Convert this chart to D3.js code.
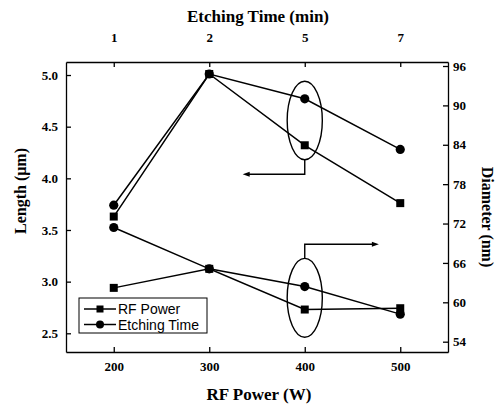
<!DOCTYPE html>
<html>
<head>
<meta charset="utf-8">
<script src="https://cdn.jsdelivr.net/npm/d3@7"></script>
<style>
  html, body { margin: 0; padding: 0; background: #fff; }
  svg { display: block; }
  .axis path, .axis line { stroke: #000; stroke-width: 1.3; }
  .axis text { font-family: "Liberation Serif", serif; font-weight: bold; font-size: 13px; fill: #000; }
  .title { font-family: "Liberation Serif", serif; font-weight: bold; font-size: 16px; fill: #000; }
  .htitle { font-size: 17px; }
  .legend text { font-family: "Liberation Sans", Arial, sans-serif; font-size: 14px; fill: #000; }
</style>
</head>
<body>
<script>
// ---- data ----
const rfPower = [200, 300, 400, 500];          // bottom axis (W)
const etchTime = [1, 2, 5, 7];                 // top axis (min), aligned with rfPower positions
const lengthRF = [3.63, 5.01, 4.32, 3.76];     // Length (um) vs RF power  (squares)
const lengthET = [3.74, 5.01, 4.77, 4.28];     // Length (um) vs etching time (circles)
const diamRF   = [62.2, 65.1, 58.9, 59.1];     // Diameter (nm) vs RF power (squares)
const diamET   = [71.4, 65.1, 62.4, 58.2];     // Diameter (nm) vs etching time (circles)
const leftTicks = [2.5, 3.0, 3.5, 4.0, 4.5, 5.0];
const rightTicks = [54, 60, 66, 72, 78, 84, 90, 96];
const legendLabels = ["RF Power", "Etching Time"];

const W = 503, H = 408;
const m = {left: 66, right: 55, top: 62, bottom: 56};
const svg = d3.select("body").append("svg").attr("width", W).attr("height", H);

const x = d3.scaleLinear().domain([150, 550]).range([m.left, W - m.right]);
const yL = d3.scaleLinear().domain([2.319, 5.126]).range([H - m.bottom, m.top]);
const yR = d3.scaleLinear().domain([52.43, 96.61]).range([H - m.bottom, m.top]);

// frame axes
svg.append("g").attr("class", "axis")
  .attr("transform", `translate(0,${H - m.bottom})`)
  .call(d3.axisBottom(x).tickValues(rfPower).tickSize(-5).tickSizeOuter(0).tickPadding(10));
svg.append("g").attr("class", "axis")
  .attr("transform", `translate(0,${m.top})`)
  .call(d3.axisTop(x).tickValues(rfPower).tickFormat((d, i) => etchTime[i]).tickSize(-5).tickSizeOuter(0).tickPadding(20));
svg.append("g").attr("class", "axis")
  .attr("transform", `translate(${m.left},0)`)
  .call(d3.axisLeft(yL).tickValues(leftTicks).tickFormat(d3.format(".1f")).tickSize(-5).tickSizeOuter(0).tickPadding(8));
svg.append("g").attr("class", "axis")
  .attr("transform", `translate(${W - m.right},0)`)
  .call(d3.axisRight(yR).tickValues(rightTicks).tickSize(-5).tickSizeOuter(0).tickPadding(5));

// titles
svg.append("text").attr("class", "title htitle").attr("x", 258).attr("y", 22)
  .attr("text-anchor", "middle").text("Etching Time (min)");
svg.append("text").attr("class", "title htitle").attr("x", 259).attr("y", 400)
  .attr("text-anchor", "middle").text("RF Power (W)");
svg.append("text").attr("class", "title")
  .attr("transform", "translate(26,191) rotate(-90)")
  .attr("text-anchor", "middle").text("Length (μm)");
svg.append("text").attr("class", "title")
  .attr("transform", "translate(482,217) rotate(90)")
  .attr("text-anchor", "middle").text("Diameter (nm)");

// series
const series = [
  {vals: lengthRF, y: yL, shape: "square"},
  {vals: lengthET, y: yL, shape: "circle"},
  {vals: diamRF, y: yR, shape: "square"},
  {vals: diamET, y: yR, shape: "circle"}
];
const line = (ys) => d3.line().x((d, i) => x(rfPower[i])).y(d => ys(d));
series.forEach(s => {
  svg.append("path").datum(s.vals).attr("d", line(s.y))
    .attr("fill", "none").attr("stroke", "#000").attr("stroke-width", 1.5);
});
series.forEach(s => {
  const g = svg.append("g");
  if (s.shape === "square") {
    g.selectAll("rect").data(s.vals).join("rect")
      .attr("x", (d, i) => x(rfPower[i]) - 4).attr("y", d => s.y(d) - 4)
      .attr("width", 8).attr("height", 8).attr("fill", "#000");
  } else {
    g.selectAll("circle").data(s.vals).join("circle")
      .attr("cx", (d, i) => x(rfPower[i])).attr("cy", d => s.y(d))
      .attr("r", 4.6).attr("fill", "#000");
  }
});

// annotations: ellipses and arrows
const ann = svg.append("g").attr("fill", "none").attr("stroke", "#000").attr("stroke-width", 1.4);
const ex = x(400);
const e1top = yL(4.94), e1bot = yL(4.18);
ann.append("ellipse").attr("cx", ex).attr("cy", (e1top + e1bot) / 2)
  .attr("rx", x(418.4) - x(400)).attr("ry", (e1bot - e1top) / 2);
const e2top = yR(66.7), e2bot = yR(54.67);
ann.append("ellipse").attr("cx", ex).attr("cy", (e2top + e2bot) / 2)
  .attr("rx", x(418.4) - x(400)).attr("ry", (e2bot - e2top) / 2);

const a1y = yL(4.04), a1x = x(335);
ann.append("path").attr("d", `M${ex},${e1bot}V${a1y}H${a1x + 5}`);
svg.append("path").attr("d", `M${a1x},${a1y}l7,-2.5v5z`).attr("fill", "#000");
const a2y = yR(68.84), a2x = x(477.6);
ann.append("path").attr("d", `M${ex},${e2top}V${a2y}H${a2x - 5}`);
svg.append("path").attr("d", `M${a2x},${a2y}l-7,-2.5v5z`).attr("fill", "#000");

// legend
const lg = svg.append("g").attr("class", "legend");
lg.append("rect").attr("x", 79).attr("y", 298).attr("width", 128).attr("height", 35)
  .attr("fill", "#fff").attr("stroke", "#000").attr("stroke-width", 1);
legendLabels.forEach((lab, i) => {
  const yy = 309 + i * 15.5;
  lg.append("line").attr("x1", 84).attr("x2", 116).attr("y1", yy).attr("y2", yy)
    .attr("stroke", "#000").attr("stroke-width", 1.5);
  if (i === 0) lg.append("rect").attr("x", 96.5).attr("y", yy - 3.5).attr("width", 7).attr("height", 7).attr("fill", "#000");
  else lg.append("circle").attr("cx", 100).attr("cy", yy).attr("r", 4).attr("fill", "#000");
  lg.append("text").attr("x", 118).attr("y", yy + 5).text(lab);
});
</script>
</body>
</html>
